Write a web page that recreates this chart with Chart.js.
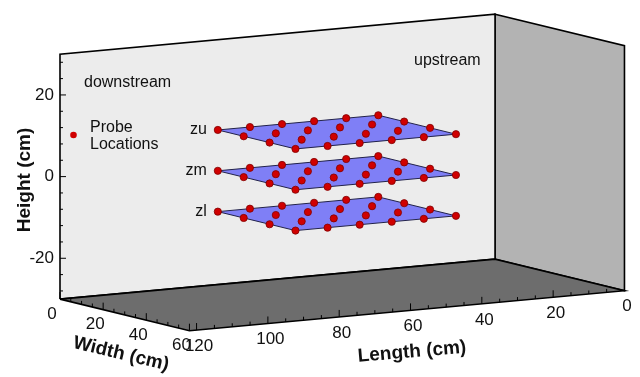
<!DOCTYPE html>
<html>
<head>
<meta charset="utf-8">
<script src="https://cdn.jsdelivr.net/npm/chart.js@4/dist/chart.umd.min.js"></script>
<style>
html,body{margin:0;padding:0;background:#ffffff;}
#wrap{width:640px;height:377px;position:relative;}
</style>
</head>
<body>
<div id="wrap"><canvas id="c"></canvas></div>
<script>
// ---------------- data (cm) ----------------
const probeLengths = [85, 76, 67, 58, 49, 40];
const probeWidths  = [12, 24, 36, 48];
const planeHeights = [10, 0, -10];
const planeNames   = ['zu', 'zm', 'zl'];
const lengthTicks  = [0, 20, 40, 60, 80, 100, 120];
const widthTicks   = [0, 20, 40, 60];
const heightTicks  = [-20, 0, 20];
const boxLength    = [0, 122];
const boxWidth     = [0, 60];
const boxHeight    = [-30, 30];

// ---------------- oblique projection of (length, width, height) ----------------
const P = {uL: -0.864, vL: -0.0802, uW: 0.5227, vW: -0.1289};
function proj(L, W, H) {
  return {x: P.uL * L + P.uW * W, y: P.vL * L + P.vW * W + H};
}

const L0 = boxLength[0], L1 = boxLength[1];
const W0 = boxWidth[0], W1 = boxWidth[1];
const H0 = boxHeight[0], H1 = boxHeight[1];

const datasets = [];
// probe points (top)
planeHeights.forEach((h, k) => {
  const pts = [];
  probeLengths.forEach(L => probeWidths.forEach(W => pts.push(proj(L, W, h))));
  datasets.push({
    label: 'Probe Locations ' + planeNames[k], data: pts, order: 0,
    pointRadius: 3.6, pointBackgroundColor: '#d00000', pointBorderColor: '#800000',
    pointBorderWidth: 0.8, showLine: false, clip: false
  });
});
// planes
planeHeights.forEach((h, k) => {
  const Lmin = Math.min(...probeLengths), Lmax = Math.max(...probeLengths);
  const Wmin = Math.min(...probeWidths), Wmax = Math.max(...probeWidths);
  const c = [proj(Lmax, Wmin, h), proj(Lmin, Wmin, h), proj(Lmin, Wmax, h), proj(Lmax, Wmax, h), proj(Lmax, Wmin, h)];
  datasets.push({
    label: 'plane ' + planeNames[k], data: c, order: 1, showLine: true,
    borderColor: '#22224a', borderWidth: 1, pointRadius: 0, tension: 0,
    polyFill: '#7f7ff6', clip: false
  });
});
// box faces
const faces = [
  {name: 'floor', fill: '#6d6d6d', c: [[L1,W0,H0],[L0,W0,H0],[L0,W1,H0],[L1,W1,H0]]},
  {name: 'back',  fill: '#ececec', c: [[L1,W0,H0],[L1,W0,H1],[L0,W0,H1],[L0,W0,H0]]},
  {name: 'side',  fill: '#b3b3b3', c: [[L0,W0,H0],[L0,W0,H1],[L0,W1,H1],[L0,W1,H0]]}
];
faces.forEach(f => {
  const pts = f.c.map(p => proj(p[0], p[1], p[2]));
  pts.push(pts[0]);
  datasets.push({
    label: f.name, data: pts, order: 2, showLine: true,
    borderColor: '#000000', borderWidth: 1.6, pointRadius: 0, tension: 0,
    polyFill: f.fill, clip: false
  });
});

const polyFillPlugin = {
  id: 'polyFill',
  beforeDatasetDraw(chart, args) {
    const ds = chart.data.datasets[args.index];
    if (!ds.polyFill) return;
    const pts = args.meta.data;
    const ctx = chart.ctx;
    ctx.save();
    ctx.beginPath();
    pts.forEach((p, i) => i ? ctx.lineTo(p.x, p.y) : ctx.moveTo(p.x, p.y));
    ctx.closePath();
    ctx.fillStyle = ds.polyFill;
    ctx.fill();
    ctx.restore();
  }
};

const FONT = '"Liberation Sans", Arial, Helvetica, sans-serif';
const axesPlugin = {
  id: 'axes3d',
  afterDatasetsDraw(chart) {
    const ctx = chart.ctx;
    const sx = chart.scales.x, sy = chart.scales.y;
    const px = (L, W, H) => { const q = proj(L, W, H); return [sx.getPixelForValue(q.x), sy.getPixelForValue(q.y)]; };
    ctx.save();
    ctx.strokeStyle = '#000';
    ctx.lineWidth = 1;
    // height ticks (left edge of back wall)
    for (let h = -28; h <= 28; h += 4) {
      const [x, y] = px(L1, W0, h);
      const major = h % 20 === 0;
      ctx.beginPath(); ctx.moveTo(x, y); ctx.lineTo(x + (major ? 6 : 3), y); ctx.stroke();
    }
    // length ticks (front edge of floor)
    for (let l = 0; l <= 120; l += 5) {
      const [x, y] = px(l, W1, H0);
      const major = l % 20 === 0;
      ctx.beginPath(); ctx.moveTo(x, y); ctx.lineTo(x, y - (major ? 7 : 3.5)); ctx.stroke();
    }
    // width ticks (left edge of floor)
    for (let w = 0; w <= 60; w += 5) {
      const [x, y] = px(L1, w, H0);
      const major = w % 20 === 0;
      ctx.beginPath(); ctx.moveTo(x, y); ctx.lineTo(x, y - (major ? 7 : 3.5)); ctx.stroke();
    }
    ctx.fillStyle = '#111';
    ctx.font = '17px ' + FONT;
    ctx.textBaseline = 'middle';
    ctx.textAlign = 'right';
    heightTicks.forEach(h => { const [x, y] = px(L1, W0, h); ctx.fillText(String(h), x - 6, y); });
    ctx.textAlign = 'center';
    lengthTicks.forEach(l => { const [x, y] = px(l, W1, H0); ctx.fillText(String(l), x + 2.5, y + 16); });
    widthTicks.forEach(w => { const [x, y] = px(L1, w, H0); ctx.fillText(String(w), x - 8, y + 15); });

    // axis titles
    ctx.font = 'bold 19px ' + FONT;
    ctx.save(); ctx.translate(25, 180); ctx.rotate(-Math.PI / 2); ctx.fillText('Height (cm)', 0, 0); ctx.restore();
    ctx.save(); ctx.translate(412, 352); ctx.rotate(-4.8 * Math.PI / 180); ctx.fillText('Length (cm)', 0, 0); ctx.restore();
    ctx.save(); ctx.translate(121, 354); ctx.rotate(13.5 * Math.PI / 180); ctx.fillText('Width (cm)', 0, 0); ctx.restore();

    // annotations
    ctx.font = '16px ' + FONT;
    ctx.textAlign = 'left';
    ctx.textBaseline = 'alphabetic';
    ctx.fillText('downstream', 84, 87);
    ctx.fillText('upstream', 414, 65);
    ctx.fillText('Probe', 90, 132);
    ctx.fillText('Locations', 90, 149);
    ctx.beginPath(); ctx.arc(73.5, 135, 3.3, 0, Math.PI * 2);
    ctx.fillStyle = '#d00000'; ctx.fill();
    ctx.fillStyle = '#111';
    // plane names
    ctx.textAlign = 'right';
    planeHeights.forEach((h, k) => {
      const [x, y] = px(Math.max(...probeLengths), Math.min(...probeWidths), h);
      ctx.fillText(planeNames[k], x - 11, y + 4.5);
    });
    ctx.restore();
  }
};

const K = 4.19; // px per projected unit
new Chart(document.getElementById('c'), {
  type: 'scatter',
  data: {datasets},
  options: {
    responsive: true, maintainAspectRatio: false, animation: false, events: [],
    layout: {padding: 0},
    plugins: {legend: {display: false}, tooltip: {enabled: false}},
    scales: {
      x: {type: 'linear', display: false, min: -497.7 / K, max: (640 - 497.7) / K},
      y: {type: 'linear', display: false, min: 135.3 / K - 377 / K, max: 135.3 / K}
    }
  },
  plugins: [polyFillPlugin, axesPlugin]
});
</script>
</body>
</html>
